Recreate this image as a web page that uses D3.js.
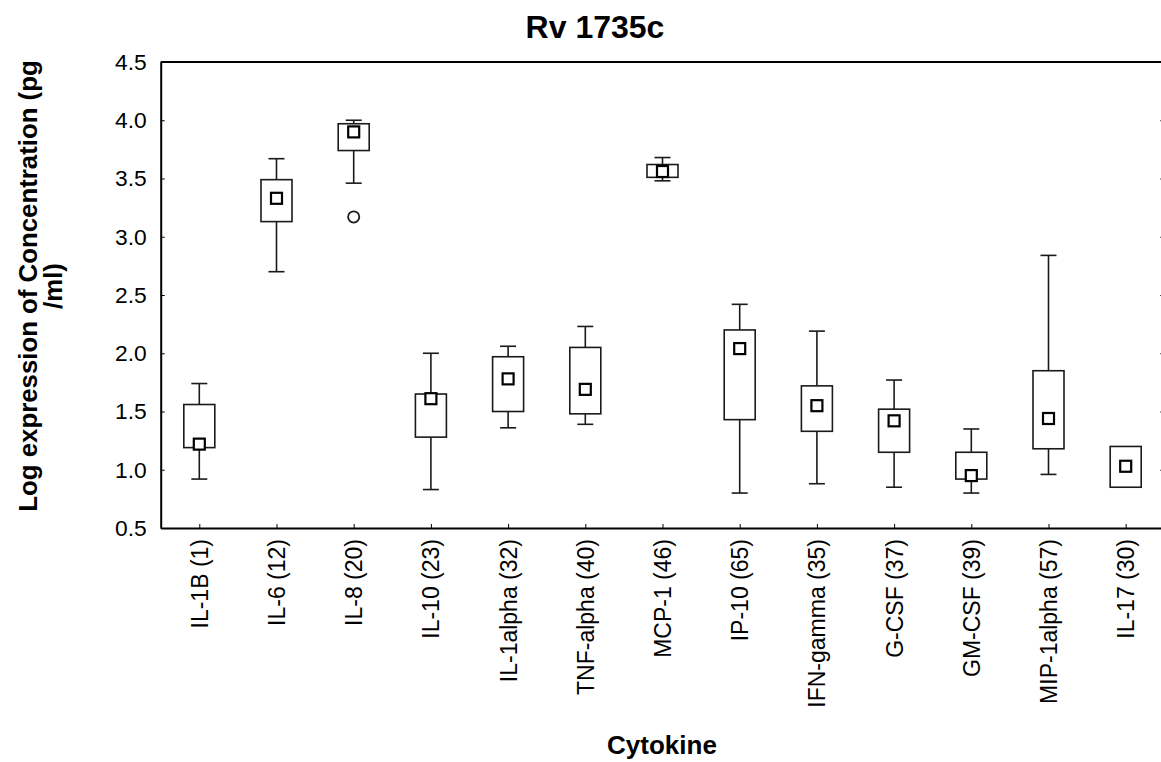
<!DOCTYPE html>
<html>
<head>
<meta charset="utf-8">
<script src="https://cdnjs.cloudflare.com/ajax/libs/d3/7.8.5/d3.min.js"></script>
<style>
  body { margin: 0; background: #fff; }
  svg { display: block; font-family: "Liberation Sans", Arial, sans-serif; }
</style>
</head>
<body>
<script>
// values
var cytokines = ["IL-1B (1)", "IL-6 (12)", "IL-8 (20)", "IL-10 (23)", "IL-1alpha (32)",
    "TNF-alpha (40)", "MCP-1 (46)", "IP-10 (65)", "IFN-gamma (35)", "G-CSF (37)",
    "GM-CSF (39)", "MIP-1alpha (57)", "IL-17 (30)"];
var whiskerLow  = [0.92, 2.70, 3.46, 0.83, 1.36, 1.39, 3.48, 0.80, 0.88, 0.85, 0.80, 0.96, 0.85];
var boxLow      = [1.19, 3.13, 3.74, 1.28, 1.50, 1.48, 3.51, 1.43, 1.33, 1.15, 0.92, 1.18, 0.85];
var means       = [1.22, 3.33, 3.90, 1.61, 1.78, 1.69, 3.56, 2.04, 1.55, 1.42, 0.95, 1.44, 1.03];
var boxHigh     = [1.56, 3.49, 3.97, 1.65, 1.97, 2.05, 3.62, 2.20, 1.72, 1.52, 1.15, 1.85, 1.20];
var whiskerHigh = [1.74, 3.67, 4.00, 2.00, 2.06, 2.23, 3.68, 2.42, 2.19, 1.77, 1.35, 2.84, 1.20];
var outlierCats = ["IL-8 (20)"];
var outlierVals = [3.17];
var yTicks = [0.5, 1.0, 1.5, 2.0, 2.5, 3.0, 3.5, 4.0, 4.5];

window.onload = drawChart;

function drawChart() {
    var width = 1161, height = 762;
    // plot frame (right edge sits just past the window, as in the original)
    var m = { left: 160.7, right: 1164.3, top: 62, bottom: 528 };

    var svg = d3.select("body").append("svg")
        .attr("width", width)
        .attr("height", height);

    var x = d3.scalePoint()
        .domain(cytokines)
        .range([m.left, m.right])
        .padding(0.5);

    var y = d3.scaleLinear()
        .domain([0.5, 4.5])
        .range([m.bottom, m.top]);

    // axes, ticks point inward like the original
    var yAxis = svg.append("g")
        .attr("transform", "translate(" + m.left + ",0)")
        .call(d3.axisLeft(y).tickValues(yTicks).tickFormat(d3.format(".1f"))
            .tickSizeInner(-4).tickSizeOuter(0).tickPadding(14));
    yAxis.select(".domain").attr("stroke-width", 2);
    yAxis.selectAll("text").style("font-size", "22.8px").attr("fill", "#000");

    var yAxisR = svg.append("g")
        .attr("transform", "translate(" + m.right + ",0)")
        .call(d3.axisRight(y).tickValues(yTicks).tickFormat("")
            .tickSizeInner(-4).tickSizeOuter(0));
    yAxisR.select(".domain").attr("stroke-width", 2);

    var xAxis = svg.append("g")
        .attr("transform", "translate(0," + m.bottom + ")")
        .call(d3.axisBottom(x).tickSizeInner(-4).tickSizeOuter(0));
    xAxis.select(".domain").attr("stroke-width", 2);
    xAxis.selectAll("text")
        .style("font-size", "23px")
        .attr("fill", "#000")
        .attr("text-anchor", "end")
        .attr("x", 0)
        .attr("y", 0)
        .attr("dy", "0.35em")
        .attr("transform", "translate(0,11) rotate(-90)");

    svg.append("line")
        .attr("x1", m.left).attr("x2", m.right)
        .attr("y1", m.top).attr("y2", m.top)
        .attr("stroke", "#000").attr("stroke-width", 2);

    // boxes
    var boxW = 31, capW = 16, markS = 11;
    var g = svg.append("g").attr("stroke", "#1a1a1a").attr("fill", "none");

    cytokines.forEach(function (c, i) {
        var cx = x(c);
        // whiskers
        g.append("line")
            .attr("x1", cx).attr("x2", cx)
            .attr("y1", y(boxHigh[i])).attr("y2", y(whiskerHigh[i]))
            .attr("stroke-width", 1.6);
        g.append("line")
            .attr("x1", cx).attr("x2", cx)
            .attr("y1", y(boxLow[i])).attr("y2", y(whiskerLow[i]))
            .attr("stroke-width", 1.6);
        if (whiskerHigh[i] > boxHigh[i]) {
            g.append("line")
                .attr("x1", cx - capW / 2).attr("x2", cx + capW / 2)
                .attr("y1", y(whiskerHigh[i])).attr("y2", y(whiskerHigh[i]))
                .attr("stroke-width", 1.6);
        }
        if (whiskerLow[i] < boxLow[i]) {
            g.append("line")
                .attr("x1", cx - capW / 2).attr("x2", cx + capW / 2)
                .attr("y1", y(whiskerLow[i])).attr("y2", y(whiskerLow[i]))
                .attr("stroke-width", 1.6);
        }
        g.append("rect")
            .attr("x", cx - boxW / 2)
            .attr("y", y(boxHigh[i]))
            .attr("width", boxW)
            .attr("height", y(boxLow[i]) - y(boxHigh[i]))
            .attr("fill", "#fff")
            .attr("stroke-width", 1.6);
        // mean marker
        g.append("rect")
            .attr("x", cx - markS / 2)
            .attr("y", y(means[i]) - markS / 2)
            .attr("width", markS)
            .attr("height", markS)
            .attr("fill", "#fff")
            .attr("stroke", "#000")
            .attr("stroke-width", 2.2);
    });

    outlierCats.forEach(function (c, i) {
        g.append("circle")
            .attr("cx", x(c))
            .attr("cy", y(outlierVals[i]))
            .attr("r", 5.6)
            .attr("fill", "#fff")
            .attr("stroke-width", 1.8);
    });

    // titles
    svg.append("text")
        .attr("x", 595).attr("y", 38)
        .attr("text-anchor", "middle")
        .style("font-size", "32px").style("font-weight", "bold")
        .text("Rv 1735c");

    svg.append("text")
        .attr("x", 662).attr("y", 754)
        .attr("text-anchor", "middle")
        .style("font-size", "26px").style("font-weight", "bold")
        .text("Cytokine");

    var yl = svg.append("text")
        .attr("transform", "translate(37,286) rotate(-90)")
        .attr("text-anchor", "middle")
        .style("font-size", "25.8px").style("font-weight", "bold");
    yl.append("tspan").attr("x", 0).attr("y", 0).text("Log expression of Concentration (pg");
    yl.append("tspan").attr("x", 0).attr("y", 25).text("/ml)");
}
</script>
</body>
</html>
